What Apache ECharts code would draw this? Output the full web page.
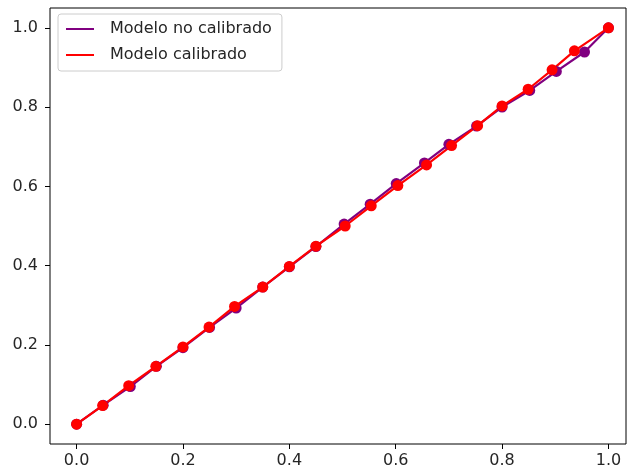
<!DOCTYPE html>
<html>
<head>
    <meta charset="utf-8">
    <title>curva de calibracion</title>
    <script src="https://cdn.jsdelivr.net/npm/echarts@6/dist/echarts.min.js"></script>
</head>
<body style="margin:0">
<div id="main" style="width: 628px; height: 473px;"></div>
<script>
    // puntos
    var noCalX = [0, 0.05, 0.101, 0.15, 0.2, 0.25, 0.3, 0.35, 0.4, 0.45, 0.503, 0.552, 0.601, 0.654, 0.70, 0.752, 0.80, 0.852, 0.902, 0.955, 1.0];
    var noCalY = [0, 0.048, 0.095, 0.146, 0.193, 0.244, 0.293, 0.346, 0.397, 0.448, 0.505, 0.555, 0.607, 0.659, 0.706, 0.752, 0.80, 0.842, 0.890, 0.939, 1.0];
    var calX = [0, 0.049, 0.098, 0.149, 0.2, 0.249, 0.297, 0.35, 0.4, 0.45, 0.505, 0.554, 0.604, 0.658, 0.705, 0.754, 0.80, 0.849, 0.894, 0.936, 1.0];
    var calY = [0, 0.047, 0.097, 0.146, 0.195, 0.245, 0.297, 0.346, 0.398, 0.449, 0.50, 0.551, 0.602, 0.654, 0.703, 0.753, 0.803, 0.845, 0.894, 0.942, 1.0];
    var tickValues = [0, 0.2, 0.4, 0.6, 0.8, 1.0];
    var names = ['Modelo no calibrado', 'Modelo calibrado'];

    function pairs(xs, ys) {
        var out = [];
        for (var i = 0; i < xs.length; i++) out.push([xs[i], ys[i]]);
        return out;
    }

    var myChart = echarts.init(document.getElementById('main'));
    var font = 'DejaVu Sans';

    var option = {
        animation: false,
        textStyle: { fontFamily: font },
        grid: {
            left: 50, right: 2, top: 8, bottom: 29,
            show: true, borderColor: '#000', borderWidth: 1
        },
        legend: {
            left: 58, top: 14,
            orient: 'vertical',
            data: names,
            icon: 'rect',
            itemWidth: 28, itemHeight: 2,
            itemGap: 8,
            padding: [6, 10, 7, 8],
            backgroundColor: 'rgba(255,255,255,0.8)',
            borderColor: '#cccccc', borderWidth: 1, borderRadius: 3,
            textStyle: { fontFamily: font, fontSize: 16, lineHeight: 18, color: '#262626', padding: [0, 0, 0, 11] }
        },
        xAxis: {
            type: 'value', min: -0.05, max: 1.033,
            axisLine: { show: false, onZero: false },
            splitLine: { show: false },
            axisTick: { show: true, length: 5, customValues: tickValues, lineStyle: { color: '#000' } },
            axisLabel: {
                customValues: tickValues, margin: 9, fontSize: 16, color: '#262626', fontFamily: font,
                formatter: function (v) { return v.toFixed(1); }
            }
        },
        yAxis: {
            type: 'value', min: -0.05, max: 1.05,
            axisLine: { show: false, onZero: false },
            splitLine: { show: false },
            axisTick: { show: true, length: 5, customValues: tickValues, lineStyle: { color: '#000' } },
            axisLabel: {
                customValues: tickValues, margin: 12, fontSize: 16, color: '#262626', fontFamily: font,
                formatter: function (v) { return v.toFixed(1); }
            }
        },
        series: [{
            name: names[0],
            type: 'line',
            data: pairs(noCalX, noCalY),
            symbol: 'circle', symbolSize: 11,
            color: '#800080',
            lineStyle: { width: 2.2, color: '#800080' },
            itemStyle: { color: '#800080' }
        }, {
            name: names[1],
            type: 'line',
            data: pairs(calX, calY),
            symbol: 'circle', symbolSize: 11,
            color: '#ff0000',
            lineStyle: { width: 2.2, color: '#ff0000' },
            itemStyle: { color: '#ff0000' }
        }]
    };

    myChart.setOption(option);
</script>
</body>
</html>
